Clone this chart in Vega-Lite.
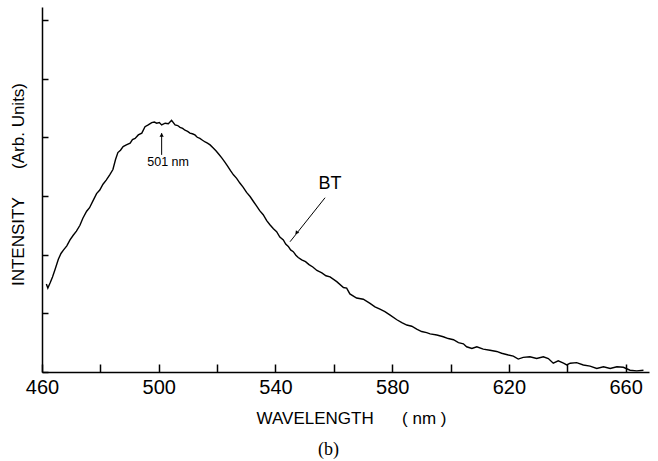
{
  "$schema": "https://vega.github.io/schema/vega-lite/v6.json",
  "autosize": "none",
  "width": 607,
  "height": 365,
  "padding": {"left": 42, "top": 7, "right": 9, "bottom": 89},
  "background": "white",
  "view": {"stroke": null},
  "title": {"text": "(b)", "orient": "bottom", "font": "Liberation Serif", "fontSize": 18, "fontWeight": "normal", "color": "black", "dx": -17, "offset": 15},
  "datasets": {
    "spectrum": [
      {"wl": 461.5, "v": 1.50}, {"wl": 462.0, "v": 1.43}, {"wl": 462.8, "v": 1.52}, {"wl": 463.6, "v": 1.62},
      {"wl": 464.5, "v": 1.75}, {"wl": 465.6, "v": 1.92}, {"wl": 466.5, "v": 2.02}, {"wl": 467.4, "v": 2.08},
      {"wl": 468.5, "v": 2.15}, {"wl": 469.6, "v": 2.25}, {"wl": 470.7, "v": 2.33}, {"wl": 471.8, "v": 2.40},
      {"wl": 473.0, "v": 2.50}, {"wl": 474.0, "v": 2.62}, {"wl": 475.3, "v": 2.74}, {"wl": 476.3, "v": 2.80},
      {"wl": 477.5, "v": 2.92}, {"wl": 478.7, "v": 3.04}, {"wl": 479.8, "v": 3.10}, {"wl": 480.9, "v": 3.20},
      {"wl": 482.0, "v": 3.27}, {"wl": 483.2, "v": 3.36}, {"wl": 484.3, "v": 3.45}, {"wl": 485.2, "v": 3.62},
      {"wl": 486.0, "v": 3.74}, {"wl": 486.9, "v": 3.78}, {"wl": 487.8, "v": 3.84}, {"wl": 488.9, "v": 3.87},
      {"wl": 490.2, "v": 3.90}, {"wl": 491.0, "v": 3.96}, {"wl": 491.9, "v": 3.98}, {"wl": 493.0, "v": 4.04},
      {"wl": 494.2, "v": 4.07}, {"wl": 495.3, "v": 4.18}, {"wl": 496.4, "v": 4.21}, {"wl": 497.6, "v": 4.25},
      {"wl": 498.5, "v": 4.26}, {"wl": 499.3, "v": 4.24}, {"wl": 500.2, "v": 4.25}, {"wl": 501.0, "v": 4.21},
      {"wl": 502.2, "v": 4.24}, {"wl": 503.3, "v": 4.23}, {"wl": 504.4, "v": 4.29}, {"wl": 505.6, "v": 4.21},
      {"wl": 506.5, "v": 4.20}, {"wl": 507.3, "v": 4.17}, {"wl": 508.2, "v": 4.15}, {"wl": 509.0, "v": 4.12},
      {"wl": 509.9, "v": 4.10}, {"wl": 510.7, "v": 4.07}, {"wl": 511.5, "v": 4.06}, {"wl": 512.4, "v": 4.04},
      {"wl": 513.2, "v": 4.00}, {"wl": 514.1, "v": 3.98}, {"wl": 515.0, "v": 3.95}, {"wl": 515.9, "v": 3.92},
      {"wl": 516.7, "v": 3.90}, {"wl": 517.6, "v": 3.87}, {"wl": 518.6, "v": 3.82}, {"wl": 519.6, "v": 3.77},
      {"wl": 520.6, "v": 3.71}, {"wl": 521.6, "v": 3.65}, {"wl": 522.6, "v": 3.58}, {"wl": 523.6, "v": 3.51},
      {"wl": 524.6, "v": 3.43}, {"wl": 525.6, "v": 3.36}, {"wl": 526.7, "v": 3.30}, {"wl": 527.8, "v": 3.22},
      {"wl": 528.9, "v": 3.15}, {"wl": 530.1, "v": 3.06}, {"wl": 531.3, "v": 2.99}, {"wl": 532.4, "v": 2.91},
      {"wl": 533.5, "v": 2.83}, {"wl": 534.6, "v": 2.75}, {"wl": 535.8, "v": 2.68}, {"wl": 537.0, "v": 2.58},
      {"wl": 538.1, "v": 2.51}, {"wl": 539.3, "v": 2.44}, {"wl": 540.4, "v": 2.39}, {"wl": 541.5, "v": 2.30},
      {"wl": 542.7, "v": 2.25}, {"wl": 543.5, "v": 2.18}, {"wl": 544.4, "v": 2.14}, {"wl": 545.2, "v": 2.08},
      {"wl": 546.1, "v": 2.05}, {"wl": 547.0, "v": 1.99}, {"wl": 547.8, "v": 1.95}, {"wl": 549.0, "v": 1.91},
      {"wl": 550.3, "v": 1.88}, {"wl": 551.5, "v": 1.83}, {"wl": 552.8, "v": 1.79}, {"wl": 554.2, "v": 1.73},
      {"wl": 555.9, "v": 1.69}, {"wl": 557.3, "v": 1.64}, {"wl": 558.7, "v": 1.62}, {"wl": 561.0, "v": 1.54},
      {"wl": 563.3, "v": 1.44}, {"wl": 564.4, "v": 1.43}, {"wl": 565.5, "v": 1.33}, {"wl": 567.8, "v": 1.26},
      {"wl": 570.1, "v": 1.24}, {"wl": 572.4, "v": 1.17}, {"wl": 574.1, "v": 1.11}, {"wl": 575.8, "v": 1.07},
      {"wl": 577.5, "v": 1.03}, {"wl": 579.3, "v": 0.97}, {"wl": 581.6, "v": 0.89}, {"wl": 583.3, "v": 0.84},
      {"wl": 585.0, "v": 0.80}, {"wl": 586.7, "v": 0.78}, {"wl": 588.4, "v": 0.73}, {"wl": 590.1, "v": 0.69},
      {"wl": 591.8, "v": 0.67}, {"wl": 593.0, "v": 0.65}, {"wl": 595.3, "v": 0.63}, {"wl": 597.5, "v": 0.60},
      {"wl": 599.2, "v": 0.57}, {"wl": 601.0, "v": 0.55}, {"wl": 602.7, "v": 0.50}, {"wl": 604.4, "v": 0.48},
      {"wl": 605.5, "v": 0.43}, {"wl": 607.3, "v": 0.40}, {"wl": 609.0, "v": 0.43}, {"wl": 611.2, "v": 0.39},
      {"wl": 613.5, "v": 0.37}, {"wl": 615.8, "v": 0.35}, {"wl": 617.5, "v": 0.32}, {"wl": 619.8, "v": 0.29},
      {"wl": 621.5, "v": 0.27}, {"wl": 623.2, "v": 0.22}, {"wl": 624.9, "v": 0.25}, {"wl": 627.2, "v": 0.26},
      {"wl": 629.5, "v": 0.23}, {"wl": 631.8, "v": 0.26}, {"wl": 633.5, "v": 0.23}, {"wl": 635.2, "v": 0.15},
      {"wl": 636.9, "v": 0.19}, {"wl": 638.7, "v": 0.15}, {"wl": 639.8, "v": 0.12}, {"wl": 641.0, "v": 0.15},
      {"wl": 643.2, "v": 0.16}, {"wl": 645.5, "v": 0.12}, {"wl": 647.8, "v": 0.10}, {"wl": 650.1, "v": 0.06},
      {"wl": 652.4, "v": 0.09}, {"wl": 654.7, "v": 0.06}, {"wl": 657.0, "v": 0.09}, {"wl": 659.2, "v": 0.08},
      {"wl": 661.5, "v": 0.03}, {"wl": 663.8, "v": 0.02}, {"wl": 666.1, "v": 0.03}
    ],
    "arrows": [
      {"wl": 501.0, "v": 3.70, "wl2": 501.0, "v2": 4.07},
      {"wl": 557.0, "v": 2.97, "wl2": 545.0, "v2": 2.22}
    ],
    "heads": [
      {"wl": 501.0, "v": 4.04, "angle": 0},
      {"wl": 547.2, "v": 2.37, "angle": 218}
    ],
    "labels": [
      {"wl": 503.2, "v": 3.58, "text": "501 nm", "size": 12.5},
      {"wl": 558.7, "v": 3.21, "text": "BT", "size": 18}
    ]
  },
  "encoding": {
    "x": {
      "field": "wl", "type": "quantitative",
      "scale": {"domain": [460, 668], "nice": false, "zero": false},
      "axis": {
        "values": [460, 480, 500, 520, 540, 560, 580, 600, 620, 640, 660],
        "labelExpr": "datum.value % 40 == 20 ? datum.label : ''",
        "grid": false,
        "tickSize": -8, "tickWidth": 1.5, "tickColor": "black",
        "domainColor": "black", "domainWidth": 1.5,
        "labelFont": "Liberation Sans", "labelFontSize": 20, "labelColor": "black", "labelPadding": 13,
        "labelFlush": false, "labelOverlap": false,
        "title": "WAVELENGTH\u00a0\u00a0\u00a0\u00a0\u00a0\u00a0(\u00a0nm\u00a0)",
        "titleFont": "Liberation Sans", "titleFontSize": 17, "titleFontWeight": "normal", "titleColor": "black",
        "titleX": 309, "titleY": 46, "titleBaseline": "middle", "titleAlign": "center"
      }
    },
    "y": {
      "field": "v", "type": "quantitative",
      "scale": {"domain": [0, 6.22], "nice": false, "zero": false},
      "axis": {
        "values": [0, 1, 2, 3, 4, 5, 6],
        "labels": false,
        "grid": false,
        "tickSize": -6, "tickWidth": 1.5, "tickColor": "black",
        "domainColor": "black", "domainWidth": 1.5,
        "title": "INTENSITY\u00a0\u00a0\u00a0\u00a0\u00a0\u00a0(Arb.\u00a0Units)",
        "titleFont": "Liberation Sans", "titleFontSize": 17, "titleFontWeight": "normal", "titleColor": "black",
        "titleX": -24, "titleY": 177, "titleBaseline": "middle", "titleAlign": "center", "titleAngle": -90
      }
    }
  },
  "layer": [
    {
      "data": {"name": "spectrum"},
      "mark": {"type": "line", "color": "black", "strokeWidth": 1.4, "interpolate": "linear"}
    },
    {
      "data": {"name": "arrows"},
      "mark": {"type": "rule", "color": "black", "strokeWidth": 1},
      "encoding": {"x2": {"field": "wl2"}, "y2": {"field": "v2"}}
    },
    {
      "data": {"name": "heads"},
      "mark": {"type": "point", "shape": "triangle-up", "filled": true, "color": "black", "size": 18, "opacity": 1},
      "encoding": {"angle": {"field": "angle", "type": "quantitative", "scale": null}}
    },
    {
      "data": {"name": "labels"},
      "mark": {"type": "text", "font": "Liberation Sans", "color": "black", "align": "center", "baseline": "middle"},
      "encoding": {
        "text": {"field": "text"},
        "size": {"field": "size", "type": "quantitative", "scale": null}
      }
    }
  ]
}
